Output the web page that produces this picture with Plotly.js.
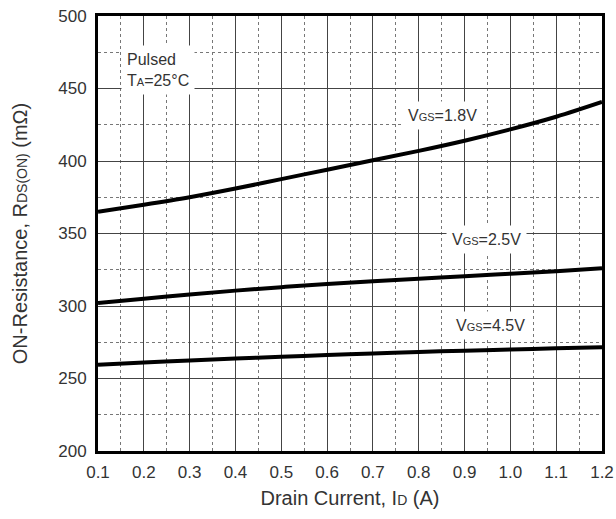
<!DOCTYPE html>
<html>
<head>
<meta charset="utf-8">
<script src="https://cdn.plot.ly/plotly-3.0.1.min.js"></script>
<style>html,body{margin:0;padding:0;background:#fff;}#chart{width:616px;height:519px;}</style>
</head>
<body>
<div id="chart"></div>
<script>
// Drain current (A)
const drainCurrent = [0.1, 0.2, 0.3, 0.4, 0.5, 0.6, 0.7, 0.8, 0.9, 1.0, 1.1, 1.2];
// ON-resistance (mOhm) per gate voltage
const rdsVgs18 = [365, 369.8, 375, 381, 387.5, 394, 400.5, 407, 414, 421.8, 430.5, 440.7];
const rdsVgs25 = [302, 305, 308, 310.6, 313, 315.2, 317, 318.8, 320.6, 322.3, 324, 326];
const rdsVgs45 = [259.5, 261, 262.5, 263.8, 265, 266.2, 267.3, 268.3, 269.2, 270, 270.8, 271.5];
const seriesNames = ['V<span style="font-size:11px">GS</span>=1.8V', 'V<span style="font-size:11px">GS</span>=2.5V', 'V<span style="font-size:11px">GS</span>=4.5V'];
const conditionText = 'Pulsed<br>T<span style="font-size:11px">A</span>=25°C';
const xTitle = 'Drain Current, I<span style="font-size:14px">D</span> (A)';
const yTitle = 'ON-Resistance, R<span style="font-size:14px">DS(ON)</span> (mΩ)';

const FONT = 'Liberation Sans, Arial, sans-serif';
const lineStyle = {color: '#000', width: 4, shape: 'spline'};
const traces = [rdsVgs18, rdsVgs25, rdsVgs45].map((ys, i) => ({
  x: drainCurrent, y: ys, type: 'scatter', mode: 'lines',
  line: lineStyle, name: seriesNames[i], showlegend: false, hoverinfo: 'skip'
}));

const labelPos = [[0.851, 431.5], [0.948, 346], [0.957, 286.7]];
const annotations = seriesNames.map((t, i) => ({
  x: labelPos[i][0], y: labelPos[i][1], xref: 'x', yref: 'y', text: t,
  showarrow: false, bgcolor: '#fff', borderpad: 5,
  font: {family: FONT, size: 16, color: '#333'}
}));
annotations.push({
  x: 0.23, y: 462.6, xref: 'x', yref: 'y', text: conditionText, align: 'left',
  showarrow: false, bgcolor: '#fff', borderpad: 5,
  font: {family: FONT, size: 16, color: '#333'}
});

const axisCommon = {
  showline: true, linecolor: '#000', linewidth: 3, mirror: true,
  showgrid: true, gridcolor: '#444', gridwidth: 1, zeroline: false,
  ticks: '', tickfont: {family: FONT, size: 17, color: '#333'}
};

const layout = {
  width: 616, height: 519,
  margin: {l: 98, r: 14, t: 16, b: 68},
  paper_bgcolor: '#fff', plot_bgcolor: '#fff',
  font: {family: FONT, color: '#333'},
  xaxis: Object.assign({}, axisCommon, {
    range: [0.1, 1.2], tick0: 0.1, dtick: 0.1, tickformat: '.1f',
    ticklabelstandoff: 4,
    minor: {dtick: 0.05, tick0: 0.1, showgrid: true, gridcolor: '#777', griddash: 'dot', gridwidth: 1},
    title: {text: xTitle, font: {family: FONT, size: 20, color: '#333'}, standoff: 10}
  }),
  yaxis: Object.assign({}, axisCommon, {
    range: [200, 500], tick0: 200, dtick: 50,
    ticklabelstandoff: 5,
    minor: {dtick: 25, tick0: 200, showgrid: true, gridcolor: '#777', griddash: 'dot', gridwidth: 1},
    title: {text: yTitle, font: {family: FONT, size: 20, color: '#333'}, standoff: 26}
  }),
  annotations: annotations
};

Plotly.newPlot('chart', traces, layout, {displayModeBar: false, staticPlot: true});
</script>
</body>
</html>
